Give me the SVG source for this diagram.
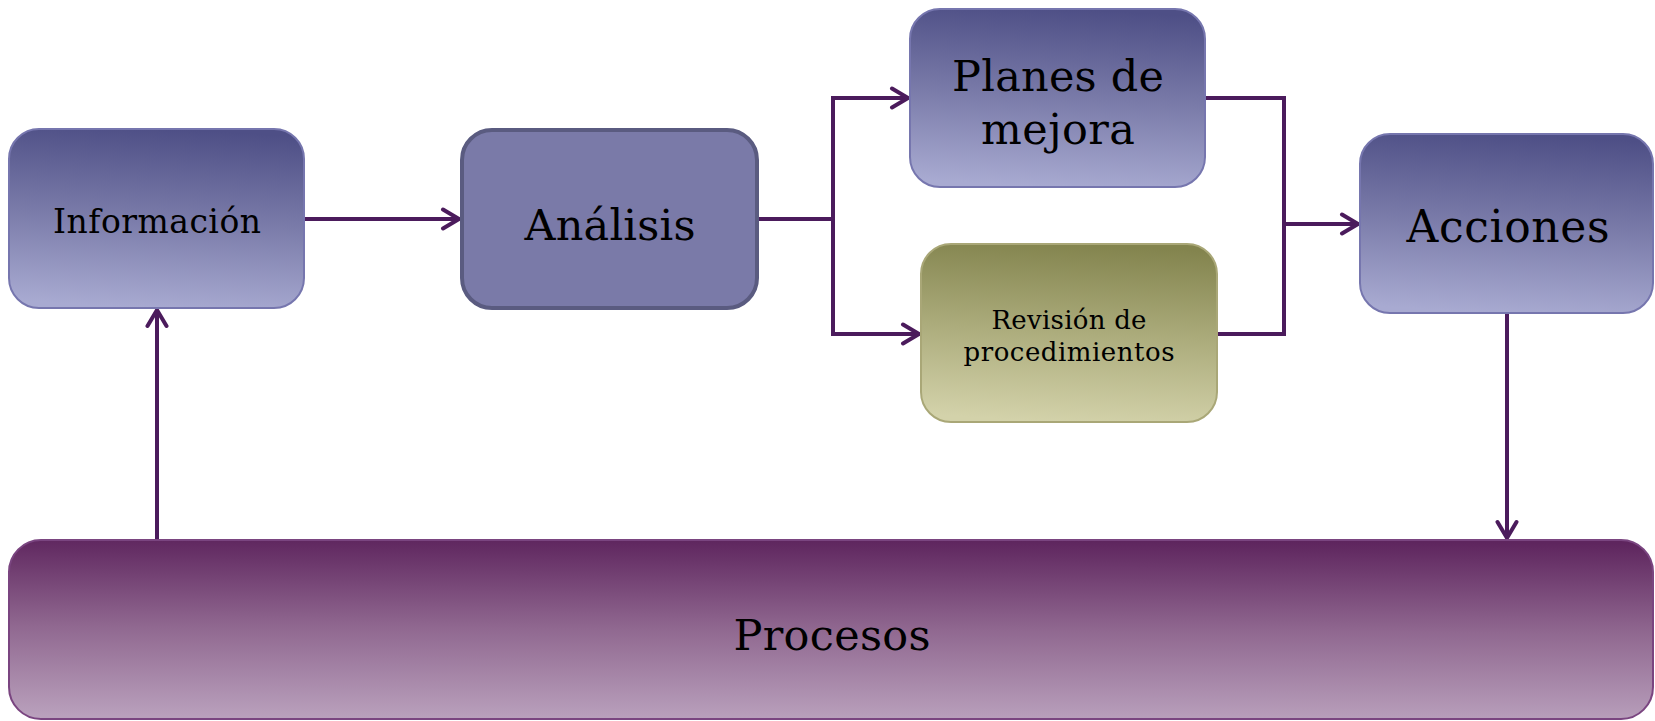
<svg xmlns="http://www.w3.org/2000/svg" width="1655" height="721" viewBox="0 0 1655 721">
<style>
.lbl{font-family:"DejaVu Serif","Liberation Serif",serif;fill:#000;text-anchor:middle}
.conn{fill:none;stroke:#4b1b5c;stroke-width:4;stroke-linejoin:miter}
.blue{fill:url(#gBlue);stroke:#7676ae;stroke-width:2}
</style>
<defs>
<linearGradient id="gBlue" x1="0.55" y1="0" x2="0.45" y2="1">
<stop offset="0" stop-color="#4e4f86"/>
<stop offset="0.5" stop-color="#7a7ba9"/>
<stop offset="1" stop-color="#a8aad1"/>
</linearGradient>
<linearGradient id="gOlive" x1="0.55" y1="0" x2="0.45" y2="1">
<stop offset="0" stop-color="#83844e"/>
<stop offset="0.5" stop-color="#acac7c"/>
<stop offset="1" stop-color="#d3d2aa"/>
</linearGradient>
<linearGradient id="gPurple" x1="0.52" y1="0" x2="0.48" y2="1">
<stop offset="0" stop-color="#5e255e"/>
<stop offset="0.5" stop-color="#906890"/>
<stop offset="1" stop-color="#b9a0bc"/>
</linearGradient>
<marker id="arr" viewBox="0 0 24 24" refX="20" refY="12" markerWidth="24" markerHeight="24" markerUnits="userSpaceOnUse" orient="auto">
<path d="M4,2.5 L20,12 L4,21.5" fill="none" stroke="#4b1b5c" stroke-width="4" stroke-linecap="round" stroke-linejoin="round"/>
</marker>
</defs>

<g id="connectors">
<line class="conn" x1="305" y1="219" x2="459" y2="219" marker-end="url(#arr)"/>
<polyline class="conn" points="758,219 833,219"/>
<polyline class="conn" points="908,98 833,98 833,334 919,334" marker-end="url(#arr)"/>
<line class="conn" x1="833" y1="98" x2="908" y2="98" marker-end="url(#arr)"/>
<polyline class="conn" points="1205,98 1284,98 1284,334 1217,334"/>
<line class="conn" x1="1284" y1="224" x2="1358" y2="224" marker-end="url(#arr)"/>
<line class="conn" x1="1507" y1="313" x2="1507" y2="538" marker-end="url(#arr)"/>
<line class="conn" x1="157" y1="539" x2="157" y2="310" marker-end="url(#arr)"/>
</g>

<g id="node-informacion">
<rect class="blue" x="9" y="129" width="295" height="179" rx="30" ry="30"/>
<text class="lbl" x="157" y="233" font-size="33" textLength="208">Información</text>
</g>

<g id="node-analisis">
<rect x="462" y="130" width="295" height="178" rx="30" ry="30" fill="#7a7aa8" stroke="#5a5b80" stroke-width="4"/>
<text class="lbl" x="610" y="240" font-size="43" textLength="171">Análisis</text>
</g>

<g id="node-planes">
<rect class="blue" x="910" y="9" width="295" height="178" rx="30" ry="30"/>
<text class="lbl" x="1058" y="91" font-size="43" textLength="212">Planes de</text>
<text class="lbl" x="1058" y="144" font-size="43" textLength="154">mejora</text>
</g>

<g id="node-revision">
<rect x="921" y="244" width="296" height="178" rx="30" ry="30" fill="url(#gOlive)" stroke="#a9a777" stroke-width="2"/>
<text class="lbl" x="1069" y="329" font-size="26" textLength="155">Revisión de</text>
<text class="lbl" x="1069" y="361" font-size="26" textLength="211">procedimientos</text>
</g>

<g id="node-acciones">
<rect class="blue" x="1360" y="134" width="293" height="179" rx="30" ry="30"/>
<text class="lbl" x="1508" y="242" font-size="44" textLength="203">Acciones</text>
</g>

<g id="node-procesos">
<rect x="9" y="540" width="1644" height="179" rx="32" ry="32" fill="url(#gPurple)" stroke="#7a4580" stroke-width="2"/>
<text class="lbl" x="832" y="650" font-size="43" textLength="197">Procesos</text>
</g>
</svg>
